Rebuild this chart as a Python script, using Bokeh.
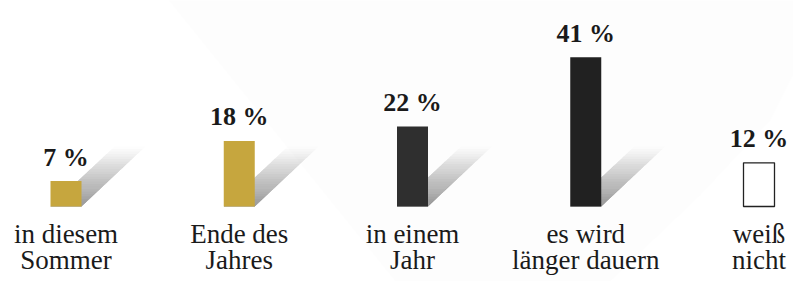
from bokeh.plotting import figure
from bokeh.models import Range1d
from bokeh.embed import file_html
from bokeh.resources import INLINE
from bokeh.core.properties import value

# ---- data ----
categories = ["in diesem\nSommer", "Ende des\nJahres", "in einem\nJahr",
              "es wird\nlänger dauern", "weiß\nnicht"]
values = [7, 18, 22, 41, 12]
value_labels = ["7 %", "18 %", "22 %", "41 %", "12 %"]
bar_colors = ["#c6a63e", "#c6a63e", "#2f2f2f", "#212121", "#ffffff"]

# ---- layout constants ----
W, H = 793, 281
PX_PER_CAT = 173.25
PX_PER_PCT = 3.64
X0_PX = 65.5
BASE_PX = 75
x_start = -X0_PX / PX_PER_CAT
x_end = x_start + W / PX_PER_CAT
y_start = -BASE_PX / PX_PER_PCT
y_end = y_start + H / PX_PER_PCT
BAR_W = 31 / PX_PER_CAT

SERIF = "Liberation Serif"
TEXT_COLOR = "#1a1a1a"

p = figure(width=W, height=H, output_backend="svg", toolbar_location=None,
           x_range=Range1d(x_start, x_end), y_range=Range1d(y_start, y_end),
           min_border=0, min_border_left=0, min_border_right=0,
           min_border_top=0, min_border_bottom=0)
p.axis.visible = False
p.grid.visible = False
p.outline_line_color = None
p.background_fill_color = "#ffffff"
p.border_fill_color = "#ffffff"


def to_data(sx, sy):
    # screen px -> data coords
    return x_start + sx / PX_PER_CAT, y_end - sy / PX_PER_PCT


# faint background light cone (decoration)
cone = [(160, -10), (410, 300), (590, 300), (700, 195), (770, 120), (810, 40), (810, -10)]
cx, cy = zip(*[to_data(a, b) for a, b in cone])
p.patch(list(cx), list(cy), fill_color="#000000", fill_alpha=0.008, line_color=None)

# ---- shadows (gradient built of stacked parallelograms) ----
N = 24
DX = 64 / PX_PER_CAT
DY = 60 / PX_PER_PCT
A0 = 0.72
targets = [A0 * (1 - (j + 0.5) / N) for j in range(N)]
alphas = []
for k in range(1, N + 1):
    if k < N:
        a = 1 - (1 - targets[k - 1]) / (1 - targets[k])
    else:
        a = targets[N - 1]
    alphas.append(a)

for i, v in enumerate(values):
    if bar_colors[i].lower() == "#ffffff":
        continue
    xl = i - BAR_W / 2
    xr = i + BAR_W / 2
    for k in range(1, N + 1):
        t = k / N
        xs = [xl, xr, xr + t * DX, xl + t * DX]
        ys = [0, 0, t * DY, t * DY]
        p.patch(xs, ys, fill_color="#7a7a7a", fill_alpha=alphas[k - 1], line_color=None)

# ---- bars ----
idx = list(range(len(values)))
line_cols = ["#222222" if c.lower() == "#ffffff" else None for c in bar_colors]
for i in idx:
    p.vbar(x=[i], top=[values[i]], bottom=0, width=BAR_W, fill_color=bar_colors[i],
           line_color=line_cols[i], line_width=1.3 if line_cols[i] else 0)

# ---- value labels ----
p.text(x=idx, y=values, text=value_labels, text_font=value(SERIF),
       text_font_style="bold", text_font_size="26px", text_color=TEXT_COLOR,
       text_align="center", text_baseline="alphabetic", y_offset=-24)

# ---- category labels ----
line1 = [c.split("\n")[0] for c in categories]
line2 = [c.split("\n")[1] for c in categories]
zeros = [0] * len(categories)
p.text(x=idx, y=zeros, text=line1, text_font=value(SERIF), text_font_size="27px",
       text_color=TEXT_COLOR, text_align="center", text_baseline="alphabetic", y_offset=27)
p.text(x=idx, y=zeros, text=line2, text_font=value(SERIF), text_font_size="27px",
       text_color=TEXT_COLOR, text_align="center", text_baseline="alphabetic", y_offset=53)

open("out.html", "w").write(file_html(p, INLINE))
